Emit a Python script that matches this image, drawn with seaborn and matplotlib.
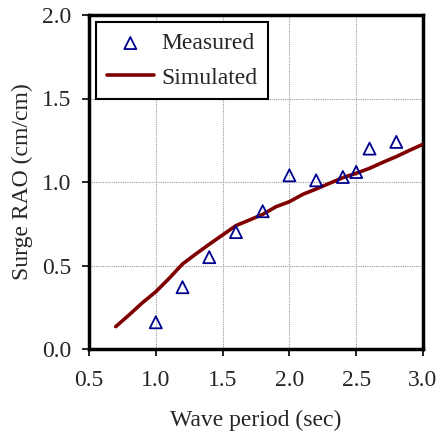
import matplotlib
matplotlib.use("Agg")
import matplotlib.pyplot as plt
import seaborn as sns
import pandas as pd

measured_period = [1.0, 1.2, 1.4, 1.6, 1.8, 2.0, 2.2, 2.4, 2.5, 2.6, 2.8]
measured_rao = [0.16, 0.37, 0.55, 0.70, 0.825, 1.04, 1.01, 1.03, 1.06, 1.20, 1.24]

sim_period = [0.7, 0.8, 0.9, 1.0, 1.1, 1.2, 1.3, 1.4, 1.5, 1.6, 1.7, 1.8, 1.9, 2.0,
              2.1, 2.2, 2.3, 2.4, 2.5, 2.6, 2.7, 2.8, 2.9, 3.0]
sim_rao = [0.134, 0.204, 0.277, 0.343, 0.423, 0.509, 0.569, 0.627, 0.683, 0.739,
           0.772, 0.806, 0.852, 0.882, 0.926, 0.958, 0.992, 1.026, 1.052, 1.082,
           1.118, 1.152, 1.19, 1.226]

xticks = [0.5, 1.0, 1.5, 2.0, 2.5, 3.0]
yticks = [0.0, 0.5, 1.0, 1.5, 2.0]

sns.set_style("white")
plt.rcParams['font.family'] = ['Liberation Serif', 'DejaVu Serif']

fig = plt.figure(figsize=(4.42, 4.41), dpi=100)
ax = fig.add_axes([89/442, 1 - 349/441, (423-89)/442, (349-15)/441])

sim_df = pd.DataFrame({"period": sim_period, "rao": sim_rao})
meas_df = pd.DataFrame({"period": measured_period, "rao": measured_rao})

sns.lineplot(data=sim_df, x="period", y="rao", ax=ax, color="#800000", lw=2.6,
             label="Simulated", zorder=3)
sns.scatterplot(data=meas_df, x="period", y="rao", ax=ax, marker="^", s=75,
                facecolor="none", edgecolor="#000090", linewidth=1.3,
                label="Measured", zorder=4)

fs = 17
ax.set_xlim(0.5, 3.0)
ax.set_ylim(0.0, 2.0)
ax.set_xticks(xticks)
ax.set_yticks(yticks)
ax.set_xticklabels([f"{t:.1f}" for t in xticks], fontsize=fs)
ax.set_yticklabels([f"{t:.1f}" for t in yticks], fontsize=fs)
ax.set_xlabel("Wave period (sec)", fontsize=fs, labelpad=14)
ax.set_ylabel("Surge RAO (cm/cm)", fontsize=fs, labelpad=6)

ax.grid(True, color="#999999", linestyle=(0, (1, 1)), linewidth=0.8)
ax.set_axisbelow(True)
for sp in ax.spines.values():
    sp.set_visible(True)
    sp.set_color("black")
    sp.set_linewidth(2.5)
ax.tick_params(axis="both", direction="out", length=5, width=1.2, color="black",
               bottom=True, left=True)
ax.tick_params(axis="x", pad=10)
ax.tick_params(axis="y", pad=8)

handles, labels = ax.get_legend_handles_labels()
order = [labels.index("Measured"), labels.index("Simulated")]
leg = ax.legend([handles[i] for i in order], [labels[i] for i in order],
                loc="upper left", bbox_to_anchor=(0.0, 1.0), borderaxespad=0.3,
                fontsize=fs, frameon=True, fancybox=False, edgecolor="black",
                framealpha=1, handlelength=2.0, borderpad=0.45, labelspacing=0.55,
                handletextpad=0.3)
leg.get_frame().set_linewidth(1.5)

fig.savefig("out.png", dpi=100)
